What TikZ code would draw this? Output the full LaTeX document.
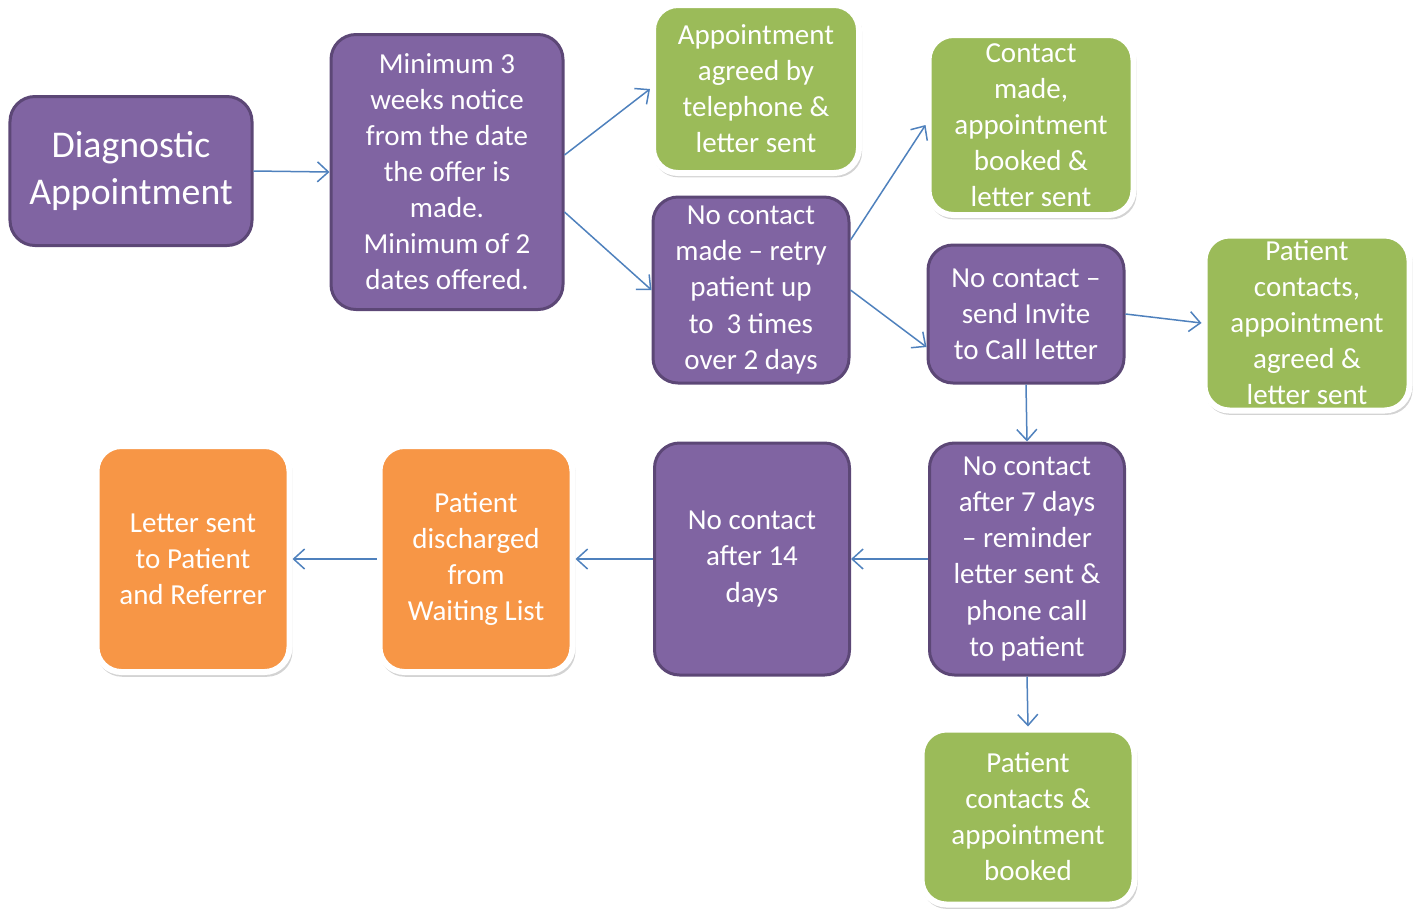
\documentclass[tikz,border=0pt]{standalone}
\usepackage{fontspec}
\setmainfont{Carlito}
\usepackage{xcolor}
\usepackage{tikz}
\usetikzlibrary{arrows.meta,shadows}

\definecolor{boxpurple}{HTML}{8064A2}
\definecolor{edgepurple}{HTML}{5C4776}
\definecolor{boxgreen}{HTML}{9BBB59}
\definecolor{boxorange}{HTML}{F79646}
\definecolor{arrowblue}{HTML}{4F81BD}

\begin{document}
\begin{tikzpicture}[
  box/.style={rounded corners=0.5cm, align=center, text=white, inner sep=0pt,
    font=\fontsize{16.5}{20.5}\selectfont},
  purplebox/.style={box, fill=boxpurple, draw=edgepurple, line width=0.6mm},
  greenbox/.style={box, fill=boxgreen, draw=white, line width=1.2mm,
    drop shadow={opacity=0.35, shadow xshift=0.3mm, shadow yshift=-0.6mm,
      shadow scale=1.015}},
  orangebox/.style={box, fill=boxorange, draw=white, line width=1.2mm,
    drop shadow={opacity=0.35, shadow xshift=0.3mm, shadow yshift=-0.6mm,
      shadow scale=1.015}},
  link/.style={draw=arrowblue, line width=0.3mm,
    -{Straight Barb[length=2.2mm, width=4mm]}},
]
\useasboundingbox (0,0) rectangle (28.52,-18.2);

% Top row
\node[purplebox, minimum width=4.84cm, minimum height=2.98cm,
  font=\fontsize{21.5}{27}\selectfont] (diag) at (2.62,-3.42)
  {Diagnostic\\Appointment};
\node[purplebox, minimum width=4.64cm, minimum height=5.5cm] (notice) at (8.94,-3.44)
  {Minimum 3\\weeks notice\\from the date\\the offer is\\made.\\Minimum of 2\\dates offered.};
\node[greenbox, minimum width=4.12cm, minimum height=3.36cm] (agreed) at (15.12,-1.78)
  {Appointment\\agreed by\\telephone \&\\letter sent};
\node[purplebox, minimum width=3.92cm, minimum height=3.72cm] (retry) at (15.02,-5.8)
  {No contact\\made -- retry\\patient up\\to~~3 times\\over 2 days};
\node[greenbox, minimum width=4.1cm, minimum height=3.6cm] (made) at (20.62,-2.5)
  {Contact\\made,\\appointment\\booked \&\\letter sent};
\node[purplebox, minimum width=3.92cm, minimum height=2.76cm] (invite) at (20.52,-6.28)
  {No contact --\\send Invite\\to Call letter};
\node[greenbox, minimum width=4.1cm, minimum height=3.5cm] (contacts) at (26.14,-6.46)
  {Patient\\contacts,\\appointment\\agreed \&\\letter sent};

% Bottom row
\node[purplebox, minimum width=3.9cm, minimum height=4.64cm] (seven) at (20.54,-11.18)
  {No contact\\after 7 days\\-- reminder\\letter sent \&\\phone call\\to patient};
\node[purplebox, minimum width=3.9cm, minimum height=4.64cm] (fourteen) at (15.04,-11.18)
  {No contact\\after 14\\days};
\node[orangebox, minimum width=3.86cm, minimum height=4.52cm] (discharged) at (9.52,-11.18)
  {Patient\\discharged\\from\\Waiting List};
\node[orangebox, minimum width=3.86cm, minimum height=4.52cm] (letter) at (3.86,-11.18)
  {Letter sent\\to Patient\\and Referrer};
\node[greenbox, minimum width=4.26cm, minimum height=3.5cm] (booked) at (20.56,-16.34)
  {Patient\\contacts \&\\appointment\\booked};

% Arrows
\draw[link] (diag.east) -- (notice.west);
\draw[link] ([yshift=3.4mm]notice.east) -- (agreed.west);
\draw[link] ([yshift=-8mm]notice.east) -- (retry.west);
\draw[link] ([yshift=10mm]retry.east) -- (made.west);
\draw[link] (retry.east) -- ([yshift=-6.6mm]invite.west);
\draw[link] (invite.east) -- (contacts.west);
\draw[link] (invite.south) -- (seven.north);
\draw[link] (seven.west) -- (fourteen.east);
\draw[link] (fourteen.west) -- (discharged.east);
\draw[link] (discharged.west) -- (letter.east);
\draw[link] (seven.south) -- (booked.north);
\end{tikzpicture}
\end{document}
